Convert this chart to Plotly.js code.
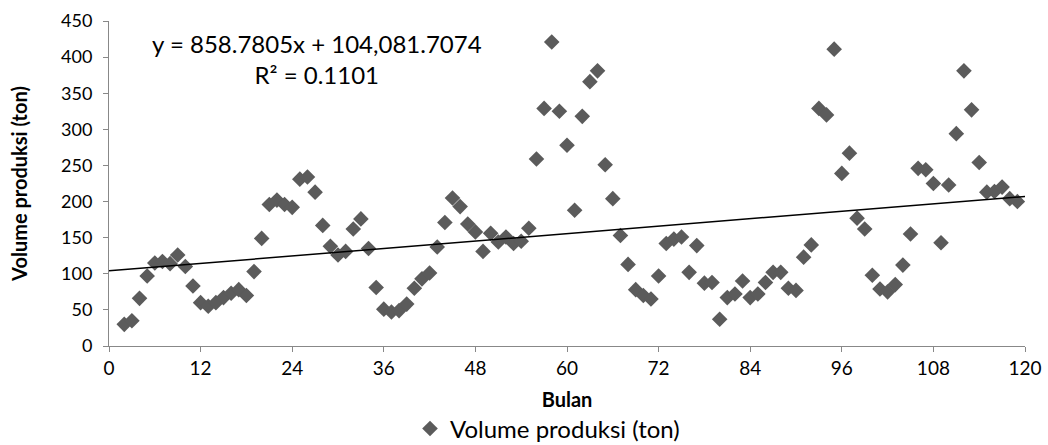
<!DOCTYPE html>
<html>
<head>
<meta charset="utf-8">
<script src="https://cdn.plot.ly/plotly-3.0.1.min.js"></script>
<style>html,body{margin:0;padding:0;background:#fff;}#chart{width:1048px;height:445px;}</style>
</head>
<body>
<div id="chart"></div>
<script>
// Month index (Bulan)
const bulan = [];
for (let m = 2; m <= 119; m++) bulan.push(m);

// Volume produksi (ton)
const volumeProduksi = [
  30, 35, 66, 97, 115, 117, 114, 126, 110, 83,
  60, 55, 60, 67, 73, 78, 70, 103, 149, 196,
  202, 196, 192, 231, 234, 213, 167, 138, 126, 131,
  162, 176, 135, 81, 51, 47, 49, 58, 80, 93,
  101, 137, 171, 205, 193, 169, 158, 131, 156, 144,
  151, 142, 145, 163, 259, 329, 421, 325, 278, 188,
  318, 366, 381, 251, 204, 153, 113, 78, 70, 65,
  97, 142, 148, 151, 102, 139, 87, 88, 37, 67,
  72, 90, 67, 72, 88, 102, 102, 80, 77, 123,
  140, 329, 320, 411, 239, 267, 177, 162, 98, 79,
  75, 85, 112, 155, 246, 244, 225, 143, 223, 294,
  381, 327, 254, 213, 214, 220, 204, 200
];

// Linear trendline coefficients (label: y = 858.7805x + 104,081.7074, in kg -> ton)
const trendSlope = 858.7805 / 1000;
const trendIntercept = 104081.7074 / 1000;
const trendLabel = "y = 858.7805x + 104,081.7074<br>R² = 0.1101";

const xTicks = [0, 12, 24, 36, 48, 60, 72, 84, 96, 108, 120];
const yTicks = [0, 50, 100, 150, 200, 250, 300, 350, 400, 450];

const trendX = [xTicks[0], xTicks[xTicks.length - 1]];
const trendY = trendX.map(x => trendIntercept + trendSlope * x);

const FONT = "Lato, 'Open Sans', sans-serif";

const data = [
  {
    x: bulan, y: volumeProduksi, type: 'scatter', mode: 'markers',
    name: 'Volume produksi (ton)',
    marker: {symbol: 'diamond', size: 12, color: '#5b5b5b'},
    showlegend: true
  },
  {
    x: trendX, y: trendY, type: 'scatter', mode: 'lines',
    line: {color: '#000000', width: 1.5},
    showlegend: false, hoverinfo: 'skip'
  }
];

const layout = {
  width: 1048, height: 445,
  margin: {l: 109, r: 23, t: 21, b: 99, autoexpand: false},
  paper_bgcolor: '#ffffff', plot_bgcolor: '#ffffff',
  font: {family: FONT, size: 18, color: '#000000'},
  xaxis: {
    range: [0, 120], tickvals: xTicks, ticktext: xTicks.map(String),
    showgrid: false, zeroline: false, showline: true, linecolor: '#888888', linewidth: 1,
    ticks: 'outside', ticklen: 5, tickcolor: '#888888', automargin: false,
    tickfont: {family: FONT, size: 19, color: '#000'},
    title: {text: '<b>Bulan</b>', font: {family: FONT, size: 20, color: '#000'}, standoff: 15}
  },
  yaxis: {
    range: [0, 450], tickvals: yTicks, ticktext: yTicks.map(String),
    showgrid: false, zeroline: false, showline: true, linecolor: '#888888', linewidth: 1,
    ticks: 'outside', ticklen: 5, tickcolor: '#888888', automargin: false,
    ticklabelstandoff: 7,
    tickfont: {family: FONT, size: 18, color: '#000'},
    title: {text: '<b>Volume produksi (ton)</b>', font: {family: FONT, size: 20, color: '#000'}, standoff: 28}
  },
  showlegend: true,
  legend: {
    orientation: 'h', x: 0.3286, xanchor: 'left', y: -0.255, yanchor: 'middle',
    font: {family: FONT, size: 24, color: '#000'}, bgcolor: 'rgba(0,0,0,0)'
  },
  annotations: [{
    xref: 'paper', yref: 'paper', x: 0.227, y: 0.883, xanchor: 'center', yanchor: 'middle',
    text: trendLabel, showarrow: false, align: 'center',
    font: {family: FONT, size: 24, color: '#000'}
  }]
};

Plotly.newPlot('chart', data, layout, {displayModeBar: false, staticPlot: true});
</script>
</body>
</html>
